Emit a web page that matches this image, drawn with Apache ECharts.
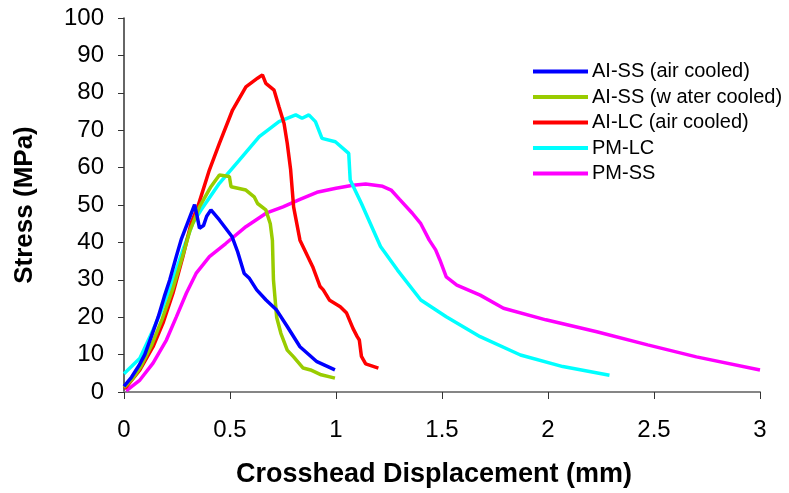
<!DOCTYPE html>
<html>
<head>
<meta charset="utf-8">
<script src="https://cdn.jsdelivr.net/npm/echarts@6/dist/echarts.min.js"></script>
<style>html,body{margin:0;padding:0;background:#fff}#c{width:789px;height:493px}</style>
</head>
<body>
<div id="c"></div>
<script>
const seriesNames = ['AI-SS (air cooled)', 'AI-SS (w ater cooled)', 'AI-LC (air cooled)', 'PM-LC', 'PM-SS'];
const seriesColors = ['#0000FF', '#99CC00', '#FF0000', '#00FFFF', '#FF00FF'];

const aiSSAirX = [0, 0.036, 0.07, 0.098, 0.13, 0.161, 0.19, 0.216, 0.247, 0.27, 0.30, 0.333, 0.345, 0.356, 0.375, 0.39, 0.41, 0.45, 0.51, 0.536, 0.567, 0.59, 0.626, 0.67, 0.72, 0.77, 0.83, 0.91, 0.995];
const aiSSAirY = [1.5, 4, 7, 10, 15, 20, 25.5, 30, 36.3, 40.8, 45.2, 50.1, 47, 43.8, 44.5, 47, 48.7, 46, 41.5, 37.5, 31.7, 30.5, 27.3, 24.6, 21.9, 17.5, 12.1, 8.1, 5.9];

const aiSSWaterX = [0, 0.04, 0.08, 0.13, 0.18, 0.23, 0.275, 0.31, 0.356, 0.41, 0.45, 0.497, 0.505, 0.575, 0.614, 0.63, 0.669, 0.69, 0.70, 0.705, 0.72, 0.74, 0.77, 0.80, 0.845, 0.88, 0.93, 0.995];
const aiSSWaterY = [1.2, 3.5, 6.8, 12.5, 19.5, 27.5, 36, 43, 49.5, 54.9, 58, 57.6, 54.9, 54, 52.2, 50.4, 48.7, 45, 40.6, 30, 20, 15.7, 11.2, 9.4, 6.4, 5.9, 4.6, 3.7];

const aiLCAirX = [0, 0.01, 0.075, 0.137, 0.184, 0.231, 0.278, 0.317, 0.348, 0.403, 0.45, 0.512, 0.575, 0.63, 0.653, 0.669, 0.708, 0.731, 0.755, 0.77, 0.786, 0.80, 0.83, 0.89, 0.925, 0.94, 0.97, 1.02, 1.05, 1.08, 1.10, 1.11, 1.12, 1.14, 1.20];
const aiLCAirY = [1, 1.3, 5.9, 12.1, 18.4, 26.4, 36.2, 45.2, 49.5, 59.4, 66.5, 75.4, 81.6, 83.9, 84.8, 82.5, 80.7, 76.3, 71.8, 66.5, 59.4, 49.5, 40.6, 33.5, 28.2, 27.3, 24.5, 22.8, 21.1, 17, 14.8, 13.9, 9.5, 7.5, 6.4];

const pmLCX = [0, 0.035, 0.075, 0.137, 0.184, 0.231, 0.278, 0.325, 0.364, 0.45, 0.544, 0.638, 0.731, 0.81, 0.84, 0.872, 0.903, 0.934, 0.997, 1.06, 1.067, 1.12, 1.21, 1.29, 1.40, 1.52, 1.68, 1.87, 2.07, 2.29];
const pmLCY = [4.9, 6.8, 9.0, 16.6, 22.8, 30, 38, 45.2, 48.7, 55.8, 62, 68.3, 72.3, 74.1, 73.2, 74.1, 72.3, 67.8, 66.9, 63.8, 56.7, 50.4, 38.9, 32.6, 24.6, 20.1, 14.8, 9.9, 6.8, 4.5];

const pmSSX = [0.01, 0.075, 0.137, 0.2, 0.247, 0.294, 0.34, 0.403, 0.48, 0.575, 0.67, 0.75, 0.83, 0.91, 1.0, 1.08, 1.14, 1.22, 1.26, 1.30, 1.36, 1.40, 1.44, 1.47, 1.49, 1.52, 1.57, 1.68, 1.79, 1.99, 2.23, 2.47, 2.70, 3.0];
const pmSSY = [0.3, 3.2, 7.7, 13.9, 20.1, 26.4, 31.7, 36.2, 39.7, 44.2, 47.8, 49.5, 51.5, 53.4, 54.5, 55.3, 55.6, 55, 54, 51.5, 47.8, 45, 40.6, 38, 35.3, 30.8, 28.6, 25.9, 22.4, 19.3, 16.1, 12.6, 9.4, 5.9];

const xTicks = [0, 0.5, 1, 1.5, 2, 2.5, 3];
const yTicks = [0, 10, 20, 30, 40, 50, 60, 70, 80, 90, 100];

const allX = [aiSSAirX, aiSSWaterX, aiLCAirX, pmLCX, pmSSX];
const allY = [aiSSAirY, aiSSWaterY, aiLCAirY, pmLCY, pmSSY];

const font = '"Liberation Sans", Arial, sans-serif';
const chart = echarts.init(document.getElementById('c'), null, {renderer: 'canvas'});
chart.setOption({
  animation: false,
  backgroundColor: '#ffffff',
  grid: {left: 124, right: 29, top: 18, bottom: 101, containLabel: false},
  legend: {
    orient: 'vertical',
    left: 528, top: 56,
    itemWidth: 55, itemHeight: 4, itemGap: 4.5,
    icon: 'rect',
    textStyle: {fontFamily: font, fontSize: 20, color: '#000', lineHeight: 21, padding: [0,0,0,-1]},
    data: seriesNames
  },
  xAxis: {
    type: 'value', min: xTicks[0], max: xTicks[xTicks.length - 1], interval: 0.5,
    name: 'Crosshead Displacement (mm)', nameLocation: 'middle', nameGap: 69,
    nameTextStyle: {fontFamily: font, fontSize: 27, fontWeight: 'bold', color: '#000', padding: [0, 16, 0, 0]},
    axisLine: {show: true, onZero: false, lineStyle: {color: '#868686', width: 2}},
    axisTick: {show: true, length: 7, lineStyle: {color: '#333', width: 1}},
    axisLabel: {fontFamily: font, fontSize: 24, color: '#000', margin: 26},
    splitLine: {show: false}
  },
  yAxis: {
    type: 'value', min: yTicks[0], max: yTicks[yTicks.length - 1], interval: 10,
    name: 'Stress (MPa)', nameLocation: 'middle', nameGap: 86,
    nameTextStyle: {fontFamily: font, fontSize: 26, fontWeight: 'bold', color: '#000'},
    axisLine: {show: true, onZero: false, lineStyle: {color: '#333', width: 1.5}},
    axisTick: {show: true, length: 6, lineStyle: {color: '#333', width: 1}},
    axisLabel: {fontFamily: font, fontSize: 24, color: '#000', margin: 20},
    splitLine: {show: false}
  },
  series: seriesNames.map((n, i) => ({
    name: n, type: 'line', showSymbol: false, symbol: 'none',
    data: allX[i].map((x, j) => [x, allY[i][j]]),
    lineStyle: {color: seriesColors[i], width: 3.5},
    itemStyle: {color: seriesColors[i]},
    z: 10 - i
  }))
});
</script>
</body>
</html>
